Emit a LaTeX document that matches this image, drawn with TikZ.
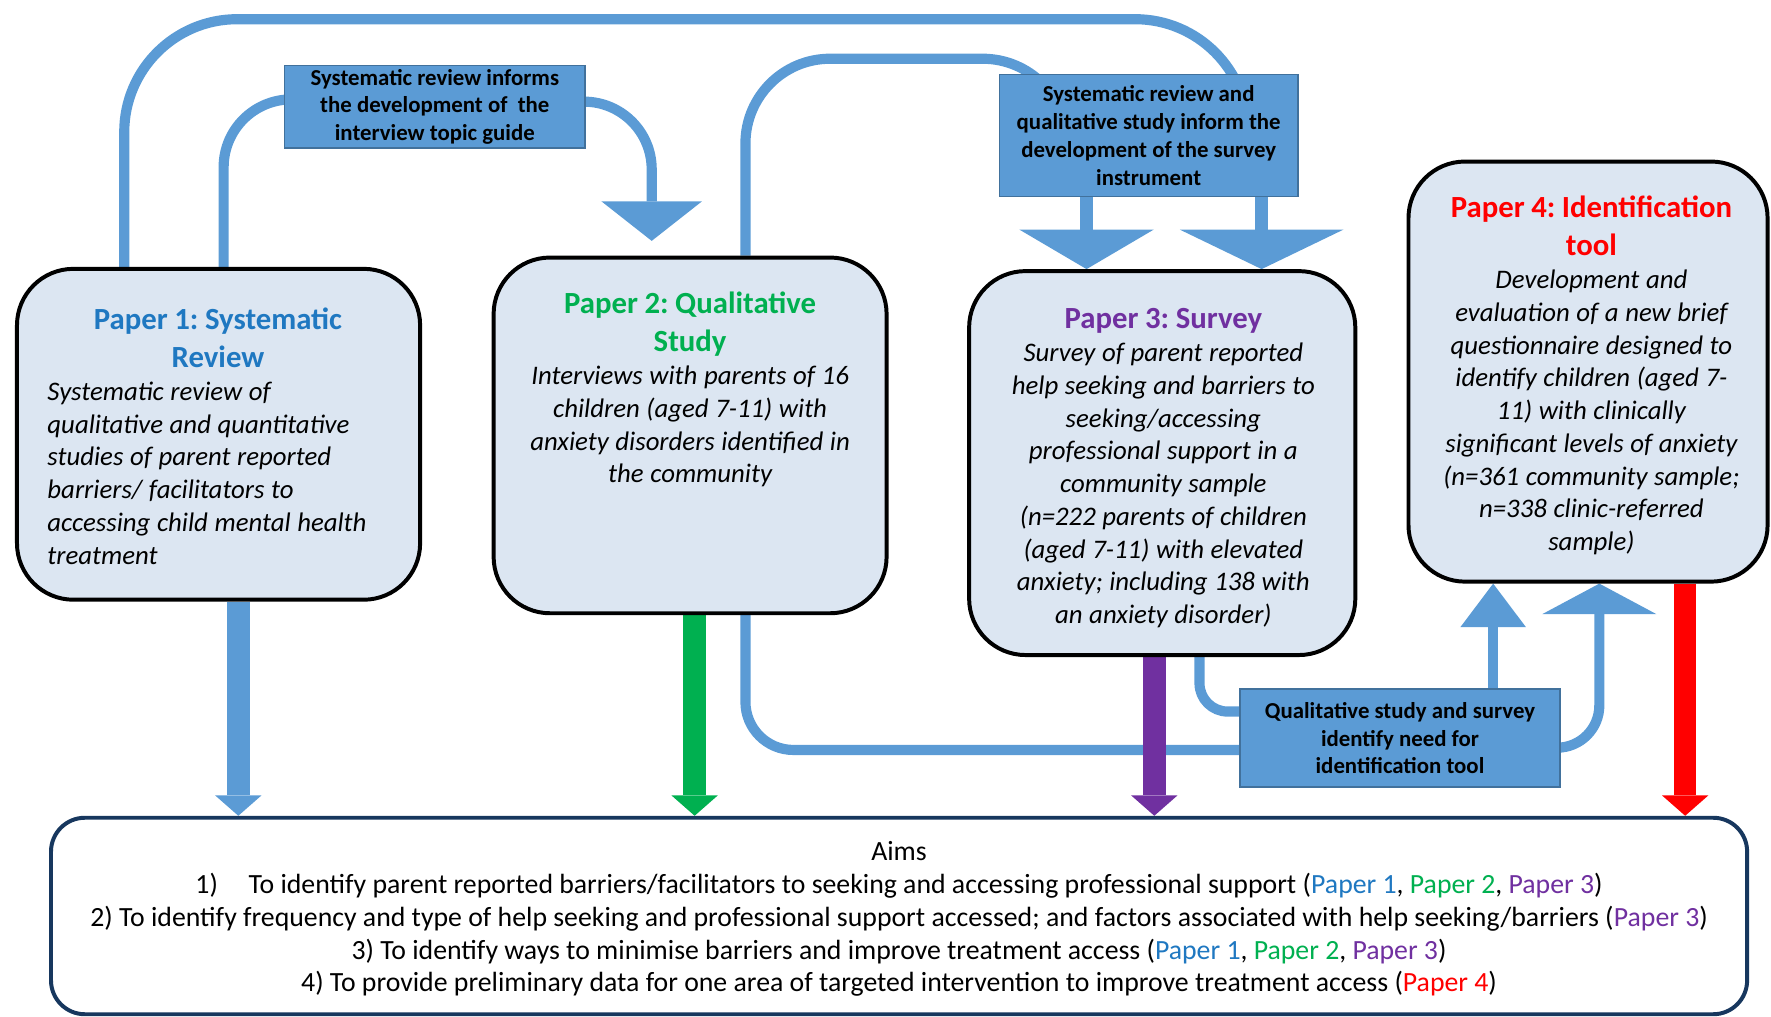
\documentclass[tikz,border=0pt]{standalone}
\usepackage{fontspec}
\setmainfont{Carlito}
\usetikzlibrary{arrows.meta,backgrounds}

\definecolor{boxfill}{HTML}{DCE6F2}
\definecolor{linkblue}{HTML}{5B9BD5}
\definecolor{labeledge}{HTML}{41719C}
\definecolor{aimsedge}{HTML}{17375E}
\definecolor{paperone}{HTML}{1F78C1}
\definecolor{papertwo}{HTML}{00B050}
\definecolor{paperthree}{HTML}{7030A0}
\definecolor{paperfour}{HTML}{FF0000}

% title and body of the paper boxes
\newcommand{\ptitle}[2]{{\fontsize{15.5}{19.4}\selectfont\bfseries\color{#1}#2\par}}
\newcommand{\pbody}[1]{{\fontsize{13.5}{16.5}\selectfont\itshape #1\par}}

\tikzset{
  paperbox/.style={draw=black, line width=2pt, fill=boxfill, rounded corners=1cm, inner sep=0pt},
  papertext/.style={anchor=north, inner sep=0pt, align=center},
  infobox/.style={draw=labeledge, line width=0.8pt, fill=linkblue, inner sep=0pt, align=center,
    font=\fontsize{11.5}{14}\selectfont\bfseries},
  aimsbox/.style={draw=aimsedge, line width=2pt, fill=white, rounded corners=0.6cm, inner sep=0pt,
    align=center, font=\fontsize{14}{16.5}\selectfont},
  link/.style={draw=linkblue, line width=0.18cm, rounded corners=#1},
  link/.default=1cm,
  aimarrow/.style={draw=#1, line width=0.4cm, -{Triangle[length=0.36cm, width=0.82cm, line width=0pt]}}
}

\begin{document}
\frenchspacing
\begin{tikzpicture}[x=0.02cm, y=0.02cm]
\useasboundingbox (0,0) rectangle (1568,900);

% The four papers
\node[paperbox, minimum width=7.14cm, minimum height=5.86cm] (p1) at (193.5,515.5) {};
\node[paperbox, minimum width=6.96cm, minimum height=6.30cm] (p2) at (611,514.5) {};
\node[paperbox, minimum width=6.84cm, minimum height=6.80cm] (p3) at (1029,490) {};
\node[paperbox, minimum width=6.36cm, minimum height=7.44cm] (p4) at (1406,571) {};

\node[papertext, text width=6.04cm] (p1txt) at (193,628) {\ptitle{paperone}{Paper 1: Systematic\\Review}
  \raggedright\pbody{Systematic review of\\qualitative and quantitative\\studies of parent reported\\
  barriers/ facilitators to\\accessing child mental health\\treatment}};
\node[papertext, text width=6.6cm] (p2txt) at (611,642) {\ptitle{papertwo}{Paper 2: Qualitative\\Study}
  \pbody{Interviews with parents of 16\\children (aged 7-11) with\\anxiety disorders identified in\\the community}};
\node[papertext, text width=6.6cm] (p3txt) at (1030,627) {\ptitle{paperthree}{Paper 3: Survey}
  \pbody{Survey of parent reported\\help seeking and barriers to\\seeking/accessing\\professional support in a\\
  community sample\\(n=222 parents of children\\(aged 7-11) with elevated\\anxiety; including 138 with\\an anxiety disorder)}};
\node[papertext, text width=6.2cm] (p4txt) at (1409,727) {\ptitle{paperfour}{Paper 4: Identification\\tool}
  \pbody{Development and\\evaluation of a new brief\\questionnaire designed to\\identify children (aged 7-\\
  11) with clinically\\significant levels of anxiety\\(n=361 community sample;\\n=338 clinic-referred\\sample)}};

% Links between the papers
\node[infobox, minimum width=5.32cm, minimum height=1.46cm] (infA) at (385,805.5)
  {Systematic review informs\\the development of~ the\\interview topic guide};
\node[infobox, minimum width=5.28cm, minimum height=2.16cm] (infB) at (1017,780)
  {Systematic review and\\qualitative study inform the\\development of the survey\\instrument};
\node[infobox, minimum width=5.66cm, minimum height=1.74cm] (infC) at (1239.5,246.5)
  {Qualitative study and survey\\identify need for\\identification tool};

% Aims
\node[aimsbox, minimum width=30.04cm, minimum height=3.48cm] (aims) at (796,89) {\rule{0pt}{0.45cm}Aims\\
  1)\hspace{1.1em}To identify parent reported barriers/facilitators to seeking and accessing professional support (\textcolor{paperone}{Paper 1}, \textcolor{papertwo}{Paper 2}, \textcolor{paperthree}{Paper 3})\\
  2) To identify frequency and type of help seeking and professional support accessed; and factors associated with help seeking/barriers (\textcolor{paperthree}{Paper 3})\\
  3) To identify ways to minimise barriers and improve treatment access (\textcolor{paperone}{Paper 1}, \textcolor{papertwo}{Paper 2}, \textcolor{paperthree}{Paper 3})\\
  4) To provide preliminary data for one area of targeted intervention to improve treatment access (\textcolor{paperfour}{Paper 4})};

\begin{scope}[on background layer]
% review and qualitative study into the survey instrument
\draw[link=2cm] (p1.north -| 110,0) |- (1105,883) -- (infB.center -| 1105,0);
\draw[link=1.5cm] (p2.north -| 660,0) |- (945,848) -- (infB.center -| 945,0);
\draw[link, line width=0.24cm, -{Triangle[length=0.7cm, width=2.38cm, line width=0pt]}]
  (infB.south -| 962,0) -- (p3.north -| 962,0);
\draw[link, line width=0.24cm, -{Triangle[length=0.7cm, width=2.9cm, line width=0pt]}]
  (infB.south -| 1117,0) -- (p3.north -| 1117,0);

% review into the topic guide
\draw[link=1.2cm] (p1.north -| 198,0) |- (infA.center |- 0,812);
\draw[link=1.2cm, -{Triangle[length=0.7cm, width=1.78cm, line width=0pt]}, shorten >=0.26cm]
  (infA.center |- 0,810) -| (p2.north -| 577,0);

% qualitative study and survey into the identification tool
\draw[link=0.85cm] (p2.south -| 660,0) |- (infC.center |- 0,236);
\draw[link=0.5cm] (p3.south -| 1062,0) |- (infC.center |- 0,270);
\draw[link, -{Triangle[length=0.77cm, width=1.16cm, line width=0pt]}]
  (infC.north -| 1322,0) -- (p4.south -| 1322,0);
\draw[link=0.75cm, -{Triangle[length=0.54cm, width=2.02cm, line width=0pt]}]
  (infC.center |- 0,238) -| (p4.south -| 1416,0);

% every paper feeds the aims
\draw[aimarrow=linkblue] (p1.south -| 211,0) -- (aims.north -| 211,0);
\draw[aimarrow=papertwo] (p2.south -| 615,0) -- (aims.north -| 615,0);
\draw[aimarrow=paperthree] (p3.south -| 1022,0) -- (aims.north -| 1022,0);
\draw[aimarrow=paperfour] (p4.south -| 1492,0) -- (aims.north -| 1492,0);
\end{scope}
\end{tikzpicture}
\end{document}
